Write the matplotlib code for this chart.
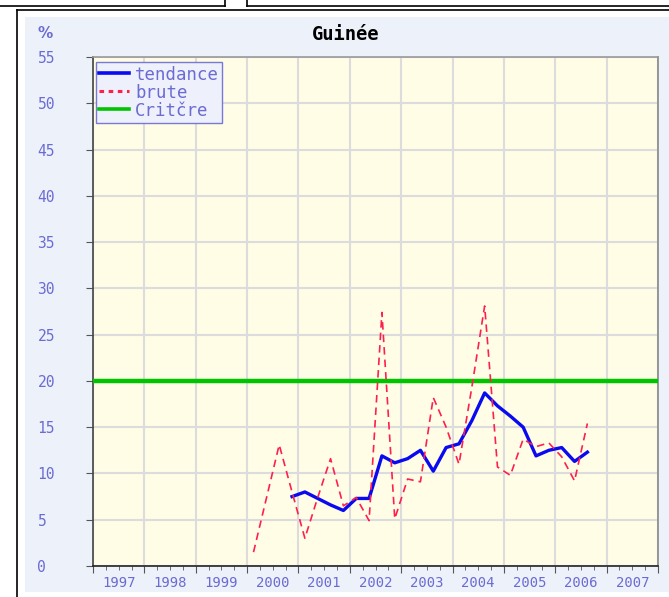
import matplotlib.pyplot as plt
import numpy as np
from matplotlib.patches import Rectangle
from matplotlib.lines import Line2D

plt.rcParams['font.family'] = ['DejaVu Sans Mono', 'DejaVu Sans']

# quarterly series, plotted at the middle of each quarter
brute_start = 2000   # first quarter of 2000
brute = [1.5, 7.3, 13.1, 8.0,
         3.0, 7.4, 11.6, 6.5,
         7.4, 4.9, 27.4, 5.1,
         9.4, 9.1, 18.2, 15.0,
         11.0, 19.3, 28.1, 10.7,
         9.8, 13.7, 12.9, 13.3,
         11.8, 9.2, 15.4]
tendance_start = 2000.75   # fourth quarter of 2000
tendance = [7.5,
            8.0, 7.3, 6.6, 6.0,
            7.3, 7.3, 11.9, 11.15,
            11.6, 12.5, 10.25, 12.8,
            13.2, 15.7, 18.7, 17.3,
            16.2, 15.0, 11.9, 12.5,
            12.8, 11.3, 12.3]
critere = 20
years = list(range(1997, 2008))
yticks = list(range(0, 60, 5))

brute_x = brute_start + 0.125 + 0.25 * np.arange(len(brute))
tend_x = tendance_start + 0.125 + 0.25 * np.arange(len(tendance))

W, H = 669, 597
fig = plt.figure(figsize=(W / 100, H / 100), dpi=100)
fig.patch.set_facecolor('white')

def fx(px):
    return px / W

def fy(py):
    return 1 - py / H

# panel background and surrounding page frames
fig.patches.append(Rectangle((fx(25), fy(592)), fx(669 - 25), (592 - 17) / H,
                             transform=fig.transFigure, facecolor='#edf1fa',
                             edgecolor='none', zorder=-5))
for xs, ys in [([0, 225], [6, 6]), ([225, 225], [0, 6]),
               ([247, 669], [6, 6]), ([247, 247], [0, 6]),
               ([17, 669], [10, 10]), ([17, 17], [10, 597])]:
    fig.lines.append(Line2D([fx(v) for v in xs], [fy(v) for v in ys],
                            transform=fig.transFigure, color='black', lw=1.2,
                            zorder=-4))

ax = fig.add_axes([fx(93), fy(566), fx(658 - 93), (566 - 57) / H])
ax.set_zorder(2)
ax.set_facecolor('#fffde6')

ax.axhline(critere, color='#00c400', lw=3.2, zorder=3, label='Critčre')
ax.plot(tend_x, tendance, color='#0a0af0', lw=2.4, zorder=4, label='tendance')
ax.plot(brute_x, brute, color='#ff1f4f', lw=1.2, ls=(0, (4.5, 3)), zorder=5,
        label='brute')

ax.set_xlim(1997, 2008)
ax.set_ylim(0, 55)
ax.set_xticks(years + [2008])
ax.set_xticklabels([])
ax.set_xticks([y + q for y in years for q in (0.25, 0.5, 0.75)], minor=True)
ax.set_xticklabels(['' if q != 0.5 else str(y) for y in years for q in (0.25, 0.5, 0.75)],
                   minor=True)
ax.set_yticks(yticks)
ax.set_yticklabels([str(v) for v in yticks])

ax.grid(True, which='major', color='#dcdcdc', lw=1.5, zorder=1)
ax.set_axisbelow(True)

lab_col = '#6b6bd2'
ax.tick_params(axis='x', which='major', length=5, color='#555555', labelsize=10)
ax.tick_params(axis='x', which='minor', length=3, color='#555555', pad=4,
               labelsize=10, labelcolor=lab_col)
ax.tick_params(axis='y', length=5, color='#555555', pad=35, labelsize=10.5,
               labelcolor=lab_col)
for lbl in ax.get_yticklabels():
    lbl.set_horizontalalignment('left')

ax.spines['left'].set_color('#444444')
ax.spines['bottom'].set_color('#222222')
ax.spines['top'].set_color('#999999')
ax.spines['right'].set_color('#888888')
for s in ax.spines.values():
    s.set_linewidth(1.2)

fig.text(fx(346), fy(35), 'Guinée', ha='center', va='center', fontsize=13.5,
         color='black', fontweight='bold')
fig.text(fx(38), fy(34), '%', ha='left', va='center', fontsize=11,
         color=lab_col, fontweight='bold', family='DejaVu Sans')

handles = [Line2D([], [], color='#0a0af0', lw=2.6),
           Line2D([], [], color='#ff1f4f', lw=2.2, ls=(0, (1.5, 1.5))),
           Line2D([], [], color='#00c400', lw=2.6)]
leg = ax.legend(handles, ['tendance', 'brute', 'Critčre'], loc='upper left',
                bbox_to_anchor=(0.005, 0.99), fontsize=12.5, frameon=True,
                fancybox=False, framealpha=1, handlelength=1.7,
                handletextpad=0.35, labelspacing=0.0, borderpad=0.2,
                borderaxespad=0.0)
leg.get_frame().set_facecolor('#eef0fb')
leg.get_frame().set_edgecolor('#7878d8')
leg.get_frame().set_linewidth(1.0)
for t in leg.get_texts():
    t.set_color(lab_col)

fig.savefig('out.png', dpi=100)
